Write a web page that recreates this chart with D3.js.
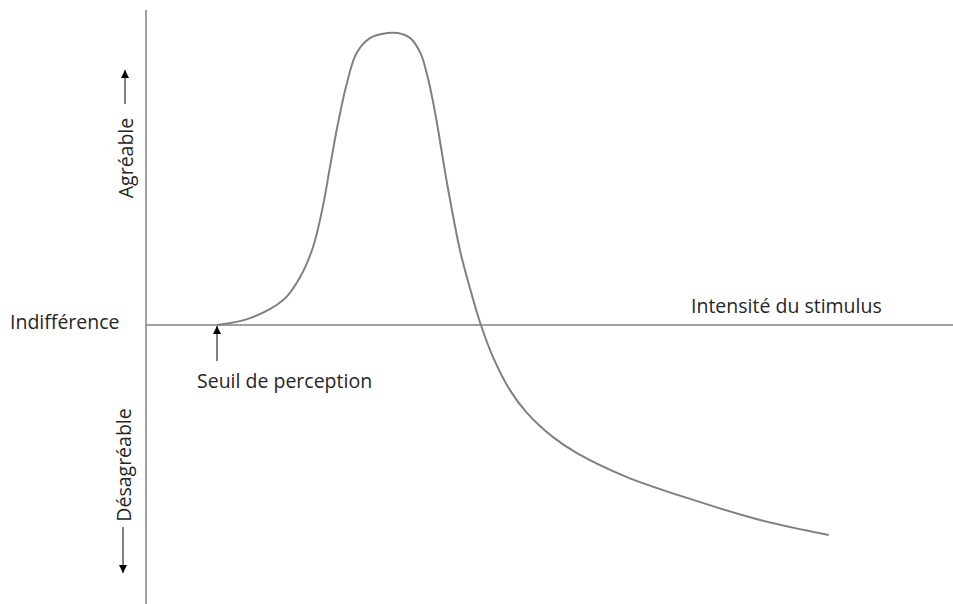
<!DOCTYPE html>
<html>
<head>
<meta charset="utf-8">
<script src="https://cdn.jsdelivr.net/npm/d3@7"></script>
<style>
  body { margin: 0; background: #fff; }
  text { font-family: "Open Sans", Lato, sans-serif; fill: #262626; font-size: 19.5px; }
</style>
</head>
<body>
<div id="chart"></div>
<script>

// intensity of the stimulus (abstract units, 0 = origin)
const intensity = [8.8, 12.9, 17.0, 19.1, 20.7, 21.9, 22.8, 23.7, 24.9, 26.1, 27.8, 29.9, 31.2, 32.7, 34.0, 34.9, 35.6, 36.2, 37.3, 38.9, 40.1, 41.5, 43.0, 45.1, 47.2, 50.4, 53.4, 59.6, 67.8, 76.1, 84.6];
// hedonic response (+ agréable / - désagréable)
const pleasure = [0, 2.3, 8.3, 16, 26, 39.3, 52.7, 66, 80.7, 90.7, 95.7, 97.3, 97.3, 95.7, 90.7, 82.7, 74, 65, 47.3, 25, 12.7, 0, -10.7, -21.7, -29.3, -37.3, -42.7, -50.7, -58.3, -65, -70];

const threshold = 8.8;
const xLabel = "Intensité du stimulus";
const zeroLabel = "Indifférence";
const thresholdLabel = "Seuil de perception";
const upLabel = "Agréable";
const downLabel = "Désagréable";

let width = 953, height = 604;

let svg = d3.select("#chart").append("svg")
	.attr("width", width)
	.attr("height", height);

let defs = svg.append("defs");
defs.append("marker")
	.attr("id", "head")
	.attr("viewBox", "0 0 10 10")
	.attr("refX", 10)
	.attr("refY", 5)
	.attr("markerUnits", "userSpaceOnUse")
	.attr("markerWidth", 9)
	.attr("markerHeight", 8)
	.attr("orient", "auto")
	.append("path")
	.attr("d", "M0,0L10,5L0,10Z")
	.attr("fill", "#000");

let x = d3.scaleLinear()
	.domain([0, 100])
	.range([146, 953]);

let y = d3.scaleLinear()
	.domain([-100, 100])
	.range([625, 25]);

// axes
svg.append("line")
	.attr("x1", x(0)).attr("x2", x(0))
	.attr("y1", y(105)).attr("y2", y(-93))
	.attr("stroke", "#808080")
	.attr("stroke-width", 1.5);

svg.append("line")
	.attr("x1", x(0)).attr("x2", x(100))
	.attr("y1", y(0)).attr("y2", y(0))
	.attr("stroke", "#808080")
	.attr("stroke-width", 1.5);

// curve
let data = intensity.map((d, i) => [d, pleasure[i]]);

let line = d3.line()
	.x(d => x(d[0]))
	.y(d => y(d[1]))
	.curve(d3.curveCatmullRom.alpha(0.5));

svg.append("path")
	.datum(data)
	.attr("d", line)
	.attr("fill", "none")
	.attr("stroke", "#808080")
	.attr("stroke-width", 2);

// threshold arrow
svg.append("line")
	.attr("x1", x(threshold)).attr("x2", x(threshold))
	.attr("y1", y(0) + 36).attr("y2", y(0) + 1)
	.attr("stroke", "#000")
	.attr("stroke-width", 1)
	.attr("marker-end", "url(#head)");

// vertical arrows
svg.append("line")
	.attr("x1", 125).attr("x2", 125)
	.attr("y1", 104).attr("y2", 70)
	.attr("stroke", "#000")
	.attr("stroke-width", 1)
	.attr("marker-end", "url(#head)");

svg.append("line")
	.attr("x1", 123).attr("x2", 123)
	.attr("y1", 527).attr("y2", 573)
	.attr("stroke", "#000")
	.attr("stroke-width", 1)
	.attr("marker-end", "url(#head)");

// labels
svg.append("text")
	.attr("x", 10)
	.attr("y", y(0) + 4)
	.text(zeroLabel);

svg.append("text")
	.attr("x", 691)
	.attr("y", 313)
	.text(xLabel);

svg.append("text")
	.attr("x", 197)
	.attr("y", 388)
	.text(thresholdLabel);

svg.append("text")
	.attr("transform", "translate(133,158) rotate(-90)")
	.attr("text-anchor", "middle")
	.text(upLabel);

svg.append("text")
	.attr("transform", "translate(131,465) rotate(-90)")
	.attr("text-anchor", "middle")
	.text(downLabel);

</script>
</body>
</html>
